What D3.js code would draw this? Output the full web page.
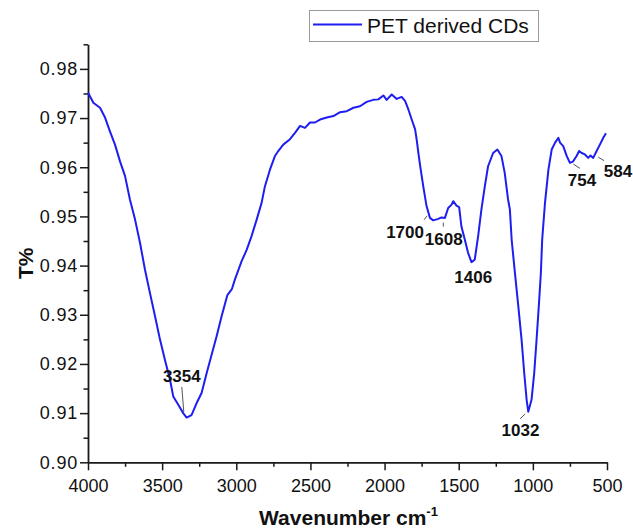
<!DOCTYPE html>
<html>
<head>
<meta charset="utf-8">
<script src="https://cdn.jsdelivr.net/npm/d3@7"></script>
<style>
  html, body { margin: 0; padding: 0; background: #fff; }
  svg { display: block; font-family: "Liberation Sans", Arial, Helvetica, sans-serif; }
</style>
</head>
<body>
<svg id="chart" width="633" height="529"></svg>
<script>
// FTIR spectrum of PET-derived carbon dots
const wavenumbers = [
  4000, 3964, 3919, 3885, 3852, 3818, 3784, 3750, 3717, 3683, 3649, 3616, 3582, 3548,
  3514, 3481, 3447, 3425, 3391, 3358, 3335, 3302, 3268, 3234, 3200, 3166, 3133, 3099,
  3060, 3030, 3009, 2964, 2930, 2897, 2862, 2829, 2807, 2773, 2739, 2717, 2683, 2638,
  2604, 2570, 2537, 2503, 2469, 2435, 2390, 2345, 2300, 2255, 2210, 2166, 2121, 2076,
  2042, 2008, 1986, 1952, 1918, 1885, 1862, 1840, 1817, 1794, 1784, 1772, 1761, 1739,
  1717, 1694, 1672, 1638, 1616, 1593, 1571, 1548, 1537, 1515, 1497, 1482, 1459, 1437,
  1414, 1392, 1369, 1347, 1324, 1302, 1268, 1239, 1212, 1190, 1167, 1155, 1143, 1121,
  1098, 1076, 1058, 1042, 1031, 1009, 991, 975, 960, 946, 937, 918, 895, 873,
  850, 828, 817, 795, 772, 750, 728, 705, 688, 671, 649, 627, 611, 593,
  570, 548, 525, 507
];
const transmittance = [
  0.9752, 0.9731, 0.9721, 0.9701, 0.9673, 0.9646, 0.9612, 0.9582, 0.9534, 0.9494, 0.9446, 0.9392, 0.9344, 0.9297,
  0.9249, 0.9208, 0.9168, 0.9134, 0.9117, 0.9100, 0.9091, 0.9096, 0.9120, 0.9141, 0.9181, 0.9219, 0.9256, 0.9297,
  0.9340, 0.9352, 0.9372, 0.9409, 0.9432, 0.9460, 0.9494, 0.9528, 0.9561, 0.9595, 0.9623, 0.9633, 0.9646, 0.9657,
  0.9670, 0.9684, 0.9680, 0.9691, 0.9691, 0.9697, 0.9701, 0.9704, 0.9712, 0.9714, 0.9721, 0.9724, 0.9733, 0.9737,
  0.9738, 0.9746, 0.9737, 0.9748, 0.9739, 0.9743, 0.9735, 0.9718, 0.9697, 0.9677, 0.9657, 0.9629, 0.9605, 0.9561,
  0.9521, 0.9497, 0.9492, 0.9495, 0.9498, 0.9497, 0.9517, 0.9524, 0.9531, 0.9522, 0.9519, 0.9480, 0.9453, 0.9426,
  0.9407, 0.9412, 0.9460, 0.9514, 0.9561, 0.9602, 0.9629, 0.9636, 0.9623, 0.9589, 0.9534, 0.9514, 0.9453, 0.9385,
  0.9317, 0.9249, 0.9181, 0.9127, 0.9103, 0.9127, 0.9181, 0.9249, 0.9317, 0.9385, 0.9453, 0.9528, 0.9595, 0.9636,
  0.9650, 0.9660, 0.9650, 0.9643, 0.9623, 0.9609, 0.9612, 0.9623, 0.9633, 0.9629, 0.9626, 0.9619, 0.9624, 0.9619,
  0.9633, 0.9646, 0.9660, 0.9669
];

// Labelled absorption bands (cm-1)
const peaks = [3354, 1700, 1608, 1406, 1032, 754, 584];

const xTicks = [4000, 3500, 3000, 2500, 2000, 1500, 1000, 500];
const yTicks = [0.90, 0.91, 0.92, 0.93, 0.94, 0.95, 0.96, 0.97, 0.98];

const seriesName = "PET derived CDs";

// Label placement relative to each band position: text centre (dx, dy) and leader segment
const peakLayout = {
  3354: { dx: -2, dy: -32, leader: [[0, -2], [-2, -27]] },
  1700: { dx: -24, dy: 23, leader: [[-2, 1], [-5, 5]] },
  1608: { dx: 1, dy: 27, leader: [[0.6, 5], [0.6, 9]] },
  1406: { dx: 0.6, dy: 22, leader: null },
  1032: { dx: -7.6, dy: 25, leader: [[-3, 3.3], [-8, 8.3]] },
  754:  { dx: 12.6, dy: 24, leader: [[4, 2.5], [10.6, 6.8]] },
  584:  { dx: 23.4, dy: 22, leader: [[3.7, 2], [9.4, 5.4]] }
};

const svg = d3.select("#chart");
const plot = { left: 88, right: 607, top: 44.3, bottom: 462.3 };

const x = d3.scaleLinear().domain([4000, 500]).range([plot.left, plot.right]);
const y = d3.scaleLinear().domain([0.90, 0.985]).range([plot.bottom, plot.top]);

const data = wavenumbers.map((w, i) => ({ w, t: transmittance[i] }));

const axisColor = "#1a1a1a";
const lineColor = "#1e1ef0";

// Minor ticks
svg.append("g")
  .attr("transform", `translate(0,${plot.bottom})`)
  .call(d3.axisBottom(x).tickValues(d3.range(3750, 500, -500)).tickSize(4.5).tickFormat("").tickSizeOuter(0))
  .call(g => g.select(".domain").remove());
svg.append("g")
  .attr("transform", `translate(${plot.left},0)`)
  .call(d3.axisLeft(y).tickValues(d3.range(0.905, 0.99, 0.01)).tickSize(4.5).tickFormat("").tickSizeOuter(0))
  .call(g => g.select(".domain").remove());

// Major axes
const xAxis = svg.append("g")
  .attr("transform", `translate(0,${plot.bottom})`)
  .call(d3.axisBottom(x).tickValues(xTicks).tickFormat(d3.format("d")).tickSize(8).tickPadding(9).tickSizeOuter(0));
const yAxis = svg.append("g")
  .attr("transform", `translate(${plot.left},0)`)
  .call(d3.axisLeft(y).tickValues(yTicks).tickFormat(d3.format(".2f")).tickSize(8).tickPadding(2).tickSizeOuter(0));

svg.selectAll(".tick line").attr("stroke", axisColor).attr("stroke-width", 1.5);
svg.selectAll(".domain").attr("stroke", axisColor).attr("stroke-width", 1.8);
xAxis.selectAll("text").attr("font-size", 18).attr("fill", "#111").attr("font-family", "Liberation Sans, Arial, sans-serif");
yAxis.selectAll("text").attr("font-size", 18).attr("fill", "#111").attr("letter-spacing", 0.8).attr("font-family", "Liberation Sans, Arial, sans-serif");

// Spectrum
const line = d3.line().x(d => x(d.w)).y(d => y(d.t)).curve(d3.curveLinear);
svg.append("path")
  .datum(data)
  .attr("d", line)
  .attr("fill", "none")
  .attr("stroke", lineColor)
  .attr("stroke-width", 2)
  .attr("stroke-linejoin", "round");

// Peak annotations
const interp = w => {
  for (let i = 0; i < data.length - 1; i++) {
    const a = data[i], b = data[i + 1];
    if (w <= a.w && w >= b.w) {
      const f = (a.w - w) / (a.w - b.w);
      return a.t + f * (b.t - a.t);
    }
  }
  return data[data.length - 1].t;
};

const ann = svg.append("g");
peaks.forEach(p => {
  const px = x(p), py = y(interp(p));
  const L = peakLayout[p];
  if (L.leader) {
    ann.append("line")
      .attr("x1", px + L.leader[0][0]).attr("y1", py + L.leader[0][1])
      .attr("x2", px + L.leader[1][0]).attr("y2", py + L.leader[1][1])
      .attr("stroke", "#555").attr("stroke-width", 1);
  }
  ann.append("text")
    .attr("x", px + L.dx).attr("y", py + L.dy)
    .attr("text-anchor", "middle")
    .attr("font-size", 17).attr("font-weight", "bold").attr("fill", "#111")
    .text(p);
});

// Axis titles
const xTitle = svg.append("text")
  .attr("x", (plot.left + plot.right) / 2 + 1).attr("y", 525)
  .attr("text-anchor", "middle")
  .attr("font-size", 21).attr("font-weight", "bold").attr("fill", "#111");
xTitle.append("tspan").text("Wavenumber cm");
xTitle.append("tspan").attr("font-size", 13).attr("dy", -9).text("-1");

svg.append("text")
  .attr("transform", `translate(33,${(plot.top + plot.bottom) / 2 + 10}) rotate(-90)`)
  .attr("text-anchor", "middle")
  .attr("font-size", 21).attr("font-weight", "bold").attr("fill", "#111")
  .text("T%");

// Legend
const legend = svg.append("g");
legend.append("rect")
  .attr("x", 309.5).attr("y", 10.5).attr("width", 229).attr("height", 31)
  .attr("fill", "#fff").attr("stroke", "#9a9a9a").attr("stroke-width", 1);
legend.append("line")
  .attr("x1", 313).attr("x2", 362).attr("y1", 24.5).attr("y2", 24.5)
  .attr("stroke", lineColor).attr("stroke-width", 2);
legend.append("text")
  .attr("x", 367).attr("y", 32.5)
  .attr("font-size", 21).attr("fill", "#111")
  .text(seriesName);
</script>
</body>
</html>
